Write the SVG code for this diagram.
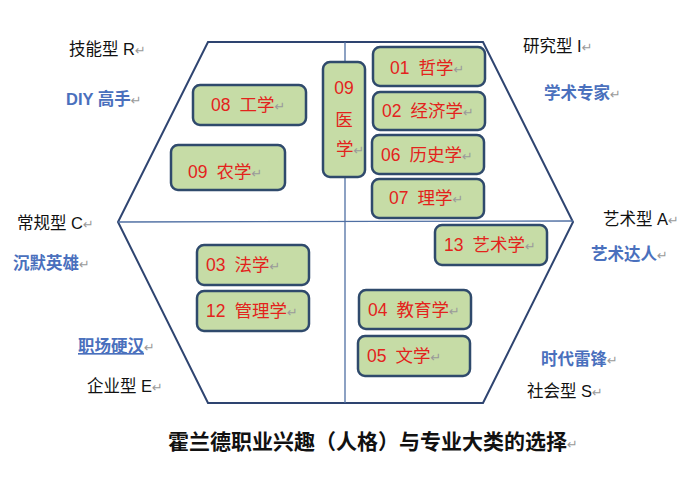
<svg xmlns="http://www.w3.org/2000/svg" width="700" height="480" viewBox="0 0 700 480">
<style>
text{font-family:"Liberation Sans","Noto Sans CJK SC",sans-serif}
.box{fill:#c6dca6;stroke:#2f4a6c;stroke-width:2.5}
.bt{font-size:17.5px;fill:#e3231c}
.lab{font-size:16.5px;fill:#111}
.blue{font-size:16.5px;fill:#4a70bd;font-weight:bold}
.pm{font-family:"DejaVu Sans",sans-serif;font-size:13px;fill:#9a9a9a;font-weight:normal}
.hex{fill:none;stroke:#2e4470;stroke-width:2}
.axis{fill:none;stroke:#4f6fa3;stroke-width:1.3}
.title{font-size:21px;font-weight:bold;fill:#111}
</style>
<rect width="700" height="480" fill="#fff"/>
<g id="frame">
<polygon class="hex" points="208,42 483,42 573,222 483,403 208,403 118,222"/>
</g>
<g id="connectors">
<line class="axis" x1="118" y1="222" x2="573" y2="221"/>
<line class="axis" x1="345" y1="42" x2="345" y2="403"/>
</g>
<g id="n01"><rect class="box" x="373" y="47" width="112" height="39" rx="7"/><text class="bt" x="390" y="74">01<tspan dx="9">哲学</tspan><tspan class="pm">↵</tspan></text></g>
<g id="n02"><rect class="box" x="373" y="92" width="112" height="38" rx="7"/><text class="bt" x="382" y="117">02<tspan dx="9">经济学</tspan><tspan class="pm">↵</tspan></text></g>
<g id="n06"><rect class="box" x="372" y="135" width="112" height="39" rx="7"/><text class="bt" x="381" y="161">06<tspan dx="9">历史学</tspan><tspan class="pm">↵</tspan></text></g>
<g id="n07"><rect class="box" x="372" y="179" width="112" height="39" rx="7"/><text class="bt" x="389" y="204">07<tspan dx="9">理学</tspan><tspan class="pm">↵</tspan></text></g>
<g id="n09med"><rect class="box" x="323" y="62" width="42" height="115" rx="7"/>
<text class="bt" x="344" y="94" text-anchor="middle">09</text>
<text class="bt" x="344" y="126" text-anchor="middle">医</text>
<text class="bt" x="336" y="155">学<tspan class="pm">↵</tspan></text></g>
<g id="n08"><rect class="box" x="193" y="85" width="113" height="40" rx="7"/><text class="bt" x="211" y="111">08<tspan dx="9">工学</tspan><tspan class="pm">↵</tspan></text></g>
<g id="n09agr"><rect class="box" x="171" y="145" width="114" height="45" rx="7"/><text class="bt" x="188" y="178">09<tspan dx="9">农学</tspan><tspan class="pm">↵</tspan></text></g>
<g id="n13"><rect class="box" x="435" y="225" width="112" height="40" rx="7"/><text class="bt" x="444" y="251">13<tspan dx="9">艺术学</tspan><tspan class="pm">↵</tspan></text></g>
<g id="n03"><rect class="box" x="197" y="245" width="112" height="40" rx="7"/><text class="bt" x="206" y="271">03<tspan dx="9">法学</tspan><tspan class="pm">↵</tspan></text></g>
<g id="n12"><rect class="box" x="197" y="291" width="112" height="40" rx="7"/><text class="bt" x="206" y="317">12<tspan dx="9">管理学</tspan><tspan class="pm">↵</tspan></text></g>
<g id="n04"><rect class="box" x="359" y="290" width="112" height="39" rx="7"/><text class="bt" x="368" y="316">04<tspan dx="9">教育学</tspan><tspan class="pm">↵</tspan></text></g>
<g id="n05"><rect class="box" x="358" y="336" width="112" height="40" rx="7"/><text class="bt" x="367" y="362">05<tspan dx="9">文学</tspan><tspan class="pm">↵</tspan></text></g>
<g id="labels">
<text class="lab" x="69" y="55">技能型 R<tspan class="pm">↵</tspan></text>
<text class="blue" x="66" y="105">DIY 高手<tspan class="pm">↵</tspan></text>
<text class="lab" x="523" y="52">研究型 I<tspan class="pm">↵</tspan></text>
<text class="blue" x="544" y="99">学术专家<tspan class="pm">↵</tspan></text>
<text class="lab" x="17" y="229">常规型 C<tspan class="pm">↵</tspan></text>
<text class="blue" x="13" y="269">沉默英雄<tspan class="pm">↵</tspan></text>
<text class="lab" x="603" y="225">艺术型 A<tspan class="pm">↵</tspan></text>
<text class="blue" x="591" y="260">艺术达人<tspan class="pm">↵</tspan></text>
<text class="blue" x="78" y="352"><tspan text-decoration="underline">职场硬汉</tspan><tspan class="pm">↵</tspan></text>
<text class="lab" x="87" y="392">企业型 E<tspan class="pm">↵</tspan></text>
<text class="blue" x="541" y="365">时代雷锋<tspan class="pm">↵</tspan></text>
<text class="lab" x="527" y="397">社会型 S<tspan class="pm">↵</tspan></text>
<text class="title" x="168" y="449">霍兰德职业兴趣（人格）与专业大类的选择<tspan class="pm">↵</tspan></text>
</g>
</svg>
